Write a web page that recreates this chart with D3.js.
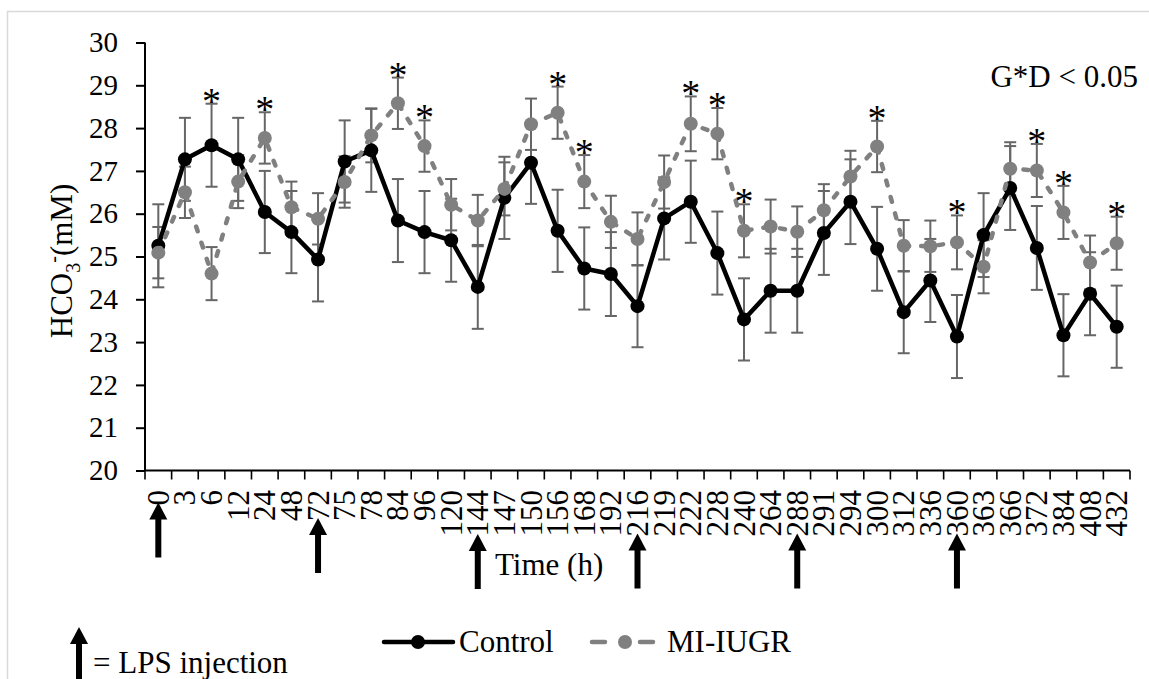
<!DOCTYPE html>
<html><head><meta charset="utf-8">
<script src="https://cdn.jsdelivr.net/npm/d3@7"></script>
<style>
body{margin:0;background:#fff}
svg{display:block}
text{font-family:"Liberation Serif","Times New Roman",serif !important;fill:#000}
</style>
</head><body>
<svg id="chart" width="1149" height="679"></svg>
<script>
// ---- data ----
const categories = ["0","3","6","12","24","48","72","75","78","84","96","120","144","147","150","156","168","192","216","219","222","228","240","264","288","291","294","300","312","336","360","363","366","372","384","408","432"];
const controlMean = [25.25,27.27,27.6,27.27,26.04,25.57,24.93,27.22,27.48,25.84,25.57,25.38,24.29,26.37,27.19,25.6,24.72,24.59,23.84,25.89,26.28,25.08,23.53,24.2,24.2,25.55,26.28,25.18,23.7,24.44,23.13,25.5,26.6,25.2,23.16,24.13,23.36];
const controlSE   = [0.97,0.97,0.97,0.97,0.96,0.96,0.98,0.96,0.97,0.97,0.96,0.97,0.98,0.96,0.96,0.96,0.96,0.98,0.96,0.96,0.96,0.97,0.96,0.98,0.98,0.98,0.99,0.98,0.96,0.97,0.97,0.98,0.98,0.98,0.96,0.97,0.96];
const miMean      = [25.09,26.5,24.6,26.75,27.77,26.15,25.88,26.74,27.83,28.58,27.58,26.21,25.84,26.58,28.09,28.36,26.75,25.81,25.41,26.74,28.1,27.87,25.6,25.7,25.58,26.08,26.87,27.57,25.25,25.24,25.33,24.76,27.05,27.01,26.03,24.86,25.31];
const miSE        = [0.6,0.6,0.62,0.62,0.6,0.6,0.6,0.6,0.63,0.6,0.6,0.6,0.6,0.62,0.6,0.61,0.62,0.61,0.62,0.62,0.64,0.6,0.62,0.63,0.59,0.61,0.6,0.6,0.6,0.6,0.63,0.62,0.62,0.62,0.62,0.63,0.62];
const significant = ["6","24","84","96","156","168","222","228","240","300","360","372","384","432"];
const lpsTimes = ["0","72","144","216","288","360"];
const yTicks = [20,21,22,23,24,25,26,27,28,29,30];
const seriesNames = ["Control","MI-IUGR"];

// ---- layout ----
const FONT = '"Liberation Serif","Times New Roman",serif';
const svg = d3.select("#chart");
const x = d3.scaleBand().domain(categories).range([145,1130]).padding(0);
const y = d3.scaleLinear().domain([20,30]).range([470.5,42.5]);
const cx = c => x(c) + x.bandwidth()/2;
const BLACK = "#000", GREY = "#808080", ERR = "#666666";

// outer frame
svg.append("rect").attr("x",7.5).attr("y",11.5).attr("width",1200).attr("height",720)
  .attr("fill","none").attr("stroke","#d9d9d9").attr("stroke-width",1.5);

// y axis
const yAxis = svg.append("g").attr("transform","translate(145,0)")
  .call(d3.axisLeft(y).tickValues(yTicks).tickSize(9).tickPadding(18).tickFormat(d3.format("d")));
yAxis.attr("font-family",FONT);
yAxis.select(".domain").attr("stroke",BLACK).attr("stroke-width",2).attr("d","M0,42.5V470.5");
yAxis.selectAll(".tick line").attr("stroke",BLACK).attr("stroke-width",2);
yAxis.selectAll(".tick text").attr("font-size",29).style("font-family",FONT).attr("fill",BLACK);

// x axis (labels at centres, ticks at boundaries)
const xAxis = svg.append("g").attr("transform","translate(0,470.5)")
  .call(d3.axisBottom(x).tickSize(0).tickPadding(0));
xAxis.attr("font-family",FONT);
xAxis.select(".domain").attr("stroke",BLACK).attr("stroke-width",2).attr("d","M145,0H1130");
xAxis.selectAll(".tick text")
  .attr("font-size",31).style("font-family",FONT).attr("fill",BLACK)
  .attr("text-anchor","end").attr("transform","rotate(-90)")
  .attr("x",-19.5).attr("y",0).attr("dy","0.34em");
const bounds = categories.map(c => x(c)).concat([x(categories[categories.length-1]) + x.bandwidth()]);
xAxis.selectAll(".bound").data(bounds).enter().append("line")
  .attr("x1",d=>d).attr("x2",d=>d).attr("y1",0).attr("y2",9)
  .attr("stroke",BLACK).attr("stroke-width",1.6);

// error bars
const series = [
  {name:seriesNames[0], mean:controlMean, se:controlSE, color:BLACK, dash:null},
  {name:seriesNames[1], mean:miMean, se:miSE, color:GREY, dash:"5,12"}
];
const capW = 6;
series.forEach(s => {
  const g = svg.append("g");
  categories.forEach((c,i) => {
    const px = cx(c), hi = y(s.mean[i]+s.se[i]), lo = y(s.mean[i]-s.se[i]);
    g.append("line").attr("x1",px).attr("x2",px).attr("y1",hi).attr("y2",lo).attr("stroke",ERR).attr("stroke-width",2);
    g.append("line").attr("x1",px-capW).attr("x2",px+capW).attr("y1",hi).attr("y2",hi).attr("stroke",ERR).attr("stroke-width",2);
    g.append("line").attr("x1",px-capW).attr("x2",px+capW).attr("y1",lo).attr("y2",lo).attr("stroke",ERR).attr("stroke-width",2);
  });
});

// lines + markers
series.forEach(s => {
  const line = d3.line().x((d,i)=>cx(categories[i])).y(d=>y(d));
  const p = svg.append("path").datum(s.mean).attr("d",line).attr("fill","none")
    .attr("stroke",s.color).attr("stroke-width",4.5).attr("stroke-linejoin","round").attr("stroke-linecap","round");
  if (s.dash) p.attr("stroke-dasharray",s.dash);
  svg.append("g").selectAll("circle").data(s.mean).enter().append("circle")
    .attr("cx",(d,i)=>cx(categories[i])).attr("cy",d=>y(d)).attr("r",7).attr("fill",s.color);
});

// significance asterisks
svg.append("g").selectAll("text").data(significant).enter().append("text")
  .attr("x",c=>cx(c))
  .attr("y",c=>{const i=categories.indexOf(c); return y(Math.max(controlMean[i]+controlSE[i], miMean[i]+miSE[i])) + 10;})
  .attr("text-anchor","middle").attr("font-size",38).text("*");

// LPS arrows under the tick labels
function arrow(g, px, tipY, botY){
  g.append("line").attr("x1",px).attr("x2",px).attr("y1",tipY+14).attr("y2",botY).attr("stroke",BLACK).attr("stroke-width",6);
  g.append("path").attr("d",`M${px},${tipY}L${px-9},${tipY+17}L${px+9},${tipY+17}Z`).attr("fill",BLACK);
}
const arrowG = svg.append("g");
xAxis.selectAll(".tick").each(function(c){
  if (!lpsTimes.includes(c)) return;
  const bb = d3.select(this).select("text").node().getBBox();
  const labelBottom = 470.5 + 19.5 + bb.width;
  arrow(arrowG, cx(c), labelBottom - 3, labelBottom + 52);
});

// axis titles
svg.append("text").attr("x",495).attr("y",575).attr("font-size",31).text("Time (h)");
const yl = svg.append("text").attr("transform","translate(72,261) rotate(-90)").attr("text-anchor","middle").attr("font-size",31);
yl.append("tspan").text("HCO");
yl.append("tspan").attr("font-size",20).attr("dy",8).text("3");
yl.append("tspan").attr("font-size",20).attr("dy",-20).text("-");
yl.append("tspan").attr("dy",12).text("(mM)");

// G*D annotation
svg.append("text").attr("x",1138).attr("y",87).attr("text-anchor","end").attr("font-size",31).text("G*D < 0.05");

// legend
const lg = svg.append("g");
lg.append("line").attr("x1",384).attr("x2",453).attr("y1",642).attr("y2",642).attr("stroke",BLACK).attr("stroke-width",4.5).attr("stroke-linecap","round");
lg.append("circle").attr("cx",418).attr("cy",642).attr("r",7).attr("fill",BLACK);
lg.append("text").attr("x",459).attr("y",652).attr("font-size",31).text(seriesNames[0]);
lg.append("line").attr("x1",592).attr("x2",653).attr("y1",642).attr("y2",642).attr("stroke",GREY).attr("stroke-width",4.5).attr("stroke-linecap","round").attr("stroke-dasharray","13,35");
lg.append("circle").attr("cx",625).attr("cy",642).attr("r",7).attr("fill",GREY);
lg.append("text").attr("x",667).attr("y",652).attr("font-size",31).text(seriesNames[1]);

// LPS key
arrow(svg.append("g"), 79, 627, 690);
svg.append("text").attr("x",93).attr("y",673).attr("font-size",31).text("= LPS injection");
</script>
</body></html>
